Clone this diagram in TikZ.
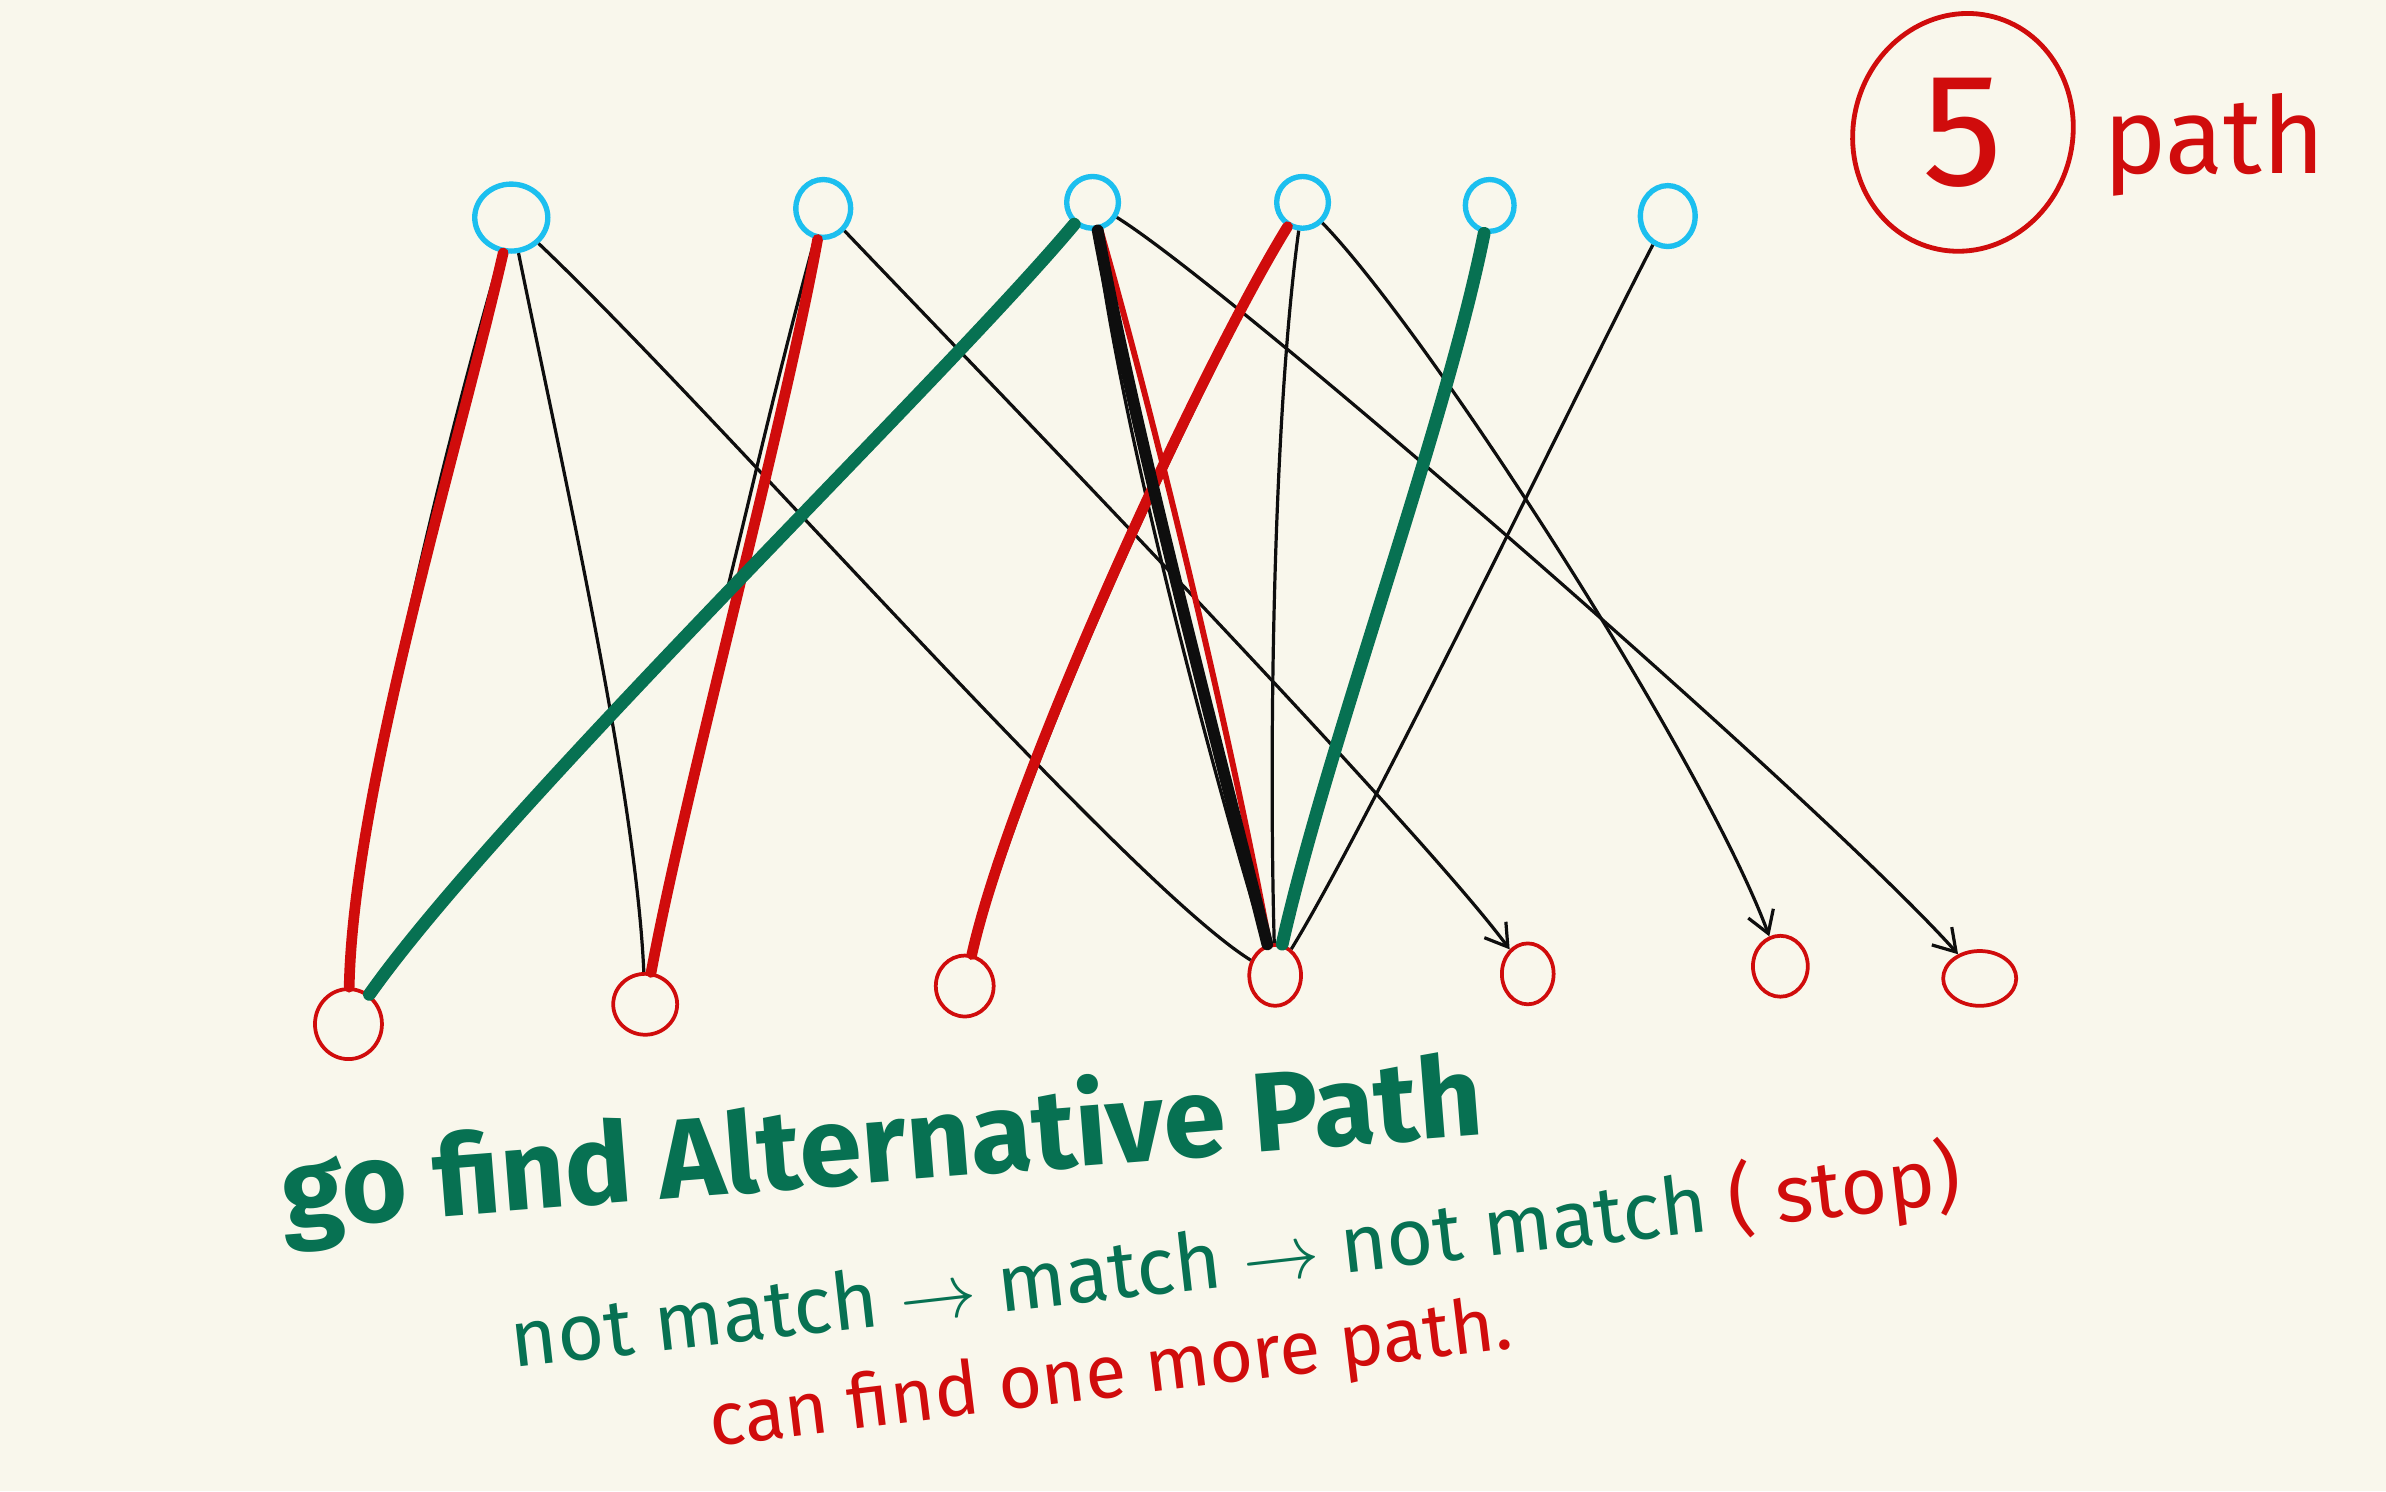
\documentclass[tikz,border=0pt]{standalone}
\usepackage{fontspec}
\setmainfont{Fira Sans}
\usepackage{xcolor}
\usepackage{tikz}
\usetikzlibrary{arrows.meta,calc,shapes.geometric}
\definecolor{paper}{HTML}{F9F7EC}
\definecolor{sky}{HTML}{1CBFEF}
\definecolor{ink}{HTML}{0E0E0E}
\definecolor{crimson}{HTML}{D00C0C}
\definecolor{pine}{HTML}{077152}
\tikzset{
  topv/.style={ellipse, draw=sky, line width=1pt, inner sep=0pt,
    minimum width=0.36cm, minimum height=0.38cm},
  botv/.style={ellipse, draw=crimson, line width=0.7pt, inner sep=0pt,
    minimum width=0.38cm, minimum height=0.40cm},
  edgeK/.style={draw=ink, line width=0.6pt},
  edgeKA/.style={edgeK, -{Straight Barb[length=4pt,width=5pt]}},
  edgeR/.style={draw=crimson, line width=2pt, line cap=round},
  edgeRm/.style={draw=crimson, line width=1.1pt, line cap=round},
  edgeG/.style={draw=pine, line width=2.4pt, line cap=round},
  edgeB/.style={draw=ink, line width=2.2pt, line cap=round},
  badge/.style={ellipse, draw=crimson, line width=0.9pt, inner sep=0pt},
  headline/.style={text=pine, inner sep=0pt, font=\bfseries\fontsize{21}{25}\selectfont},
  noteG/.style={text=pine, inner sep=0pt, font=\fontsize{15}{18}\selectfont},
  noteR/.style={text=crimson, inner sep=0pt, font=\fontsize{14}{17}\selectfont}
}
\begin{document}
\begin{tikzpicture}[x=0.01cm, y=-0.01cm]
  \fill[paper] (0,0) rectangle (1568,980);
  \useasboundingbox (0,0) rectangle (1568,980);

  % upper vertices
  \node[topv, minimum width=0.48cm, minimum height=0.44cm] (t1) at (336,143) {};
  \node[topv] (t2) at (541,137) {};
  \node[topv, minimum width=0.34cm, minimum height=0.34cm] (t3) at (718,133) {};
  \node[topv, minimum width=0.34cm, minimum height=0.34cm] (t4) at (856,133) {};
  \node[topv, minimum width=0.32cm, minimum height=0.34cm] (t5) at (979,135) {};
  \node[topv, minimum height=0.40cm] (t6) at (1096,142) {};

  % lower vertices
  \node[botv, minimum width=0.44cm, minimum height=0.46cm] (b1) at (229,673) {};
  \node[botv, minimum width=0.42cm] (b2) at (424,660) {};
  \node[botv] (b3) at (634,648) {};
  \node[botv, minimum width=0.34cm] (b4) at (838,641) {};
  \node[botv, minimum width=0.34cm] (b5) at (1004,640) {};
  \node[botv, minimum width=0.36cm] (b6) at (1170,635) {};
  \node[botv, minimum width=0.48cm, minimum height=0.36cm] (b7) at (1301,643) {};

  % all edges
  \draw[edgeK] (t1) .. controls (302,260) and (238,500) .. (b1);
  \draw[edgeK] (t1) .. controls (368,300) and (418,520) .. (b2);
  \draw[edgeK] (t1) .. controls (470,270) and (740,580) .. (b4);
  \draw[edgeK] (t2) .. controls (510,250) and (490,340) .. (476,395)
    .. controls (420,450) and (300,570) .. (b1);
  \draw[edgeKA] (t2) .. controls (620,220) and (930,540) .. (b5);
  \draw[edgeK] (t3) .. controls (736,280) and (800,520) .. (b4);
  \draw[edgeKA] (t3) .. controls (810,190) and (1200,530) .. (b7);
  \draw[edgeK] (t4) .. controls (790,250) and (680,480) .. (b3);
  \draw[edgeK] (t4) .. controls (836,280) and (834,500) .. (b4);
  \draw[edgeKA] (t4) .. controls (940,220) and (1120,500) .. (b6);
  \draw[edgeK] (t5) .. controls (950,260) and (870,520) .. (b4);
  \draw[edgeK] (t6) .. controls (1040,250) and (900,540) .. (b4);

  % matched edges
  \draw[edgeR] (t1) .. controls (300,300) and (232,520) .. (b1);
  \draw[edgeR] (t2) .. controls (515,280) and (450,520) .. (b2);
  \draw[edgeR] (t4) .. controls (790,240) and (665,510) .. (b3);
  \draw[edgeRm] (t3) .. controls (760,280) and (808,480) .. (b4);
  \draw[edgeB] (t3) .. controls (745,280) and (795,470) .. (b4);

  % alternative path
  \draw[edgeG] (b1) .. controls (330,530) and (620,250) .. (t3);
  \draw[edgeG] (t5) .. controls (950,280) and (872,490) .. (b4);

  % notes
  \node[badge, minimum width=1.44cm, minimum height=1.57cm, rotate=-15] (five) at (1290,87) {};
  \node[text=crimson, font=\fontsize{30}{30}\selectfont] (digit) at (five) {5};
  \node[noteR, font=\fontsize{20}{24}\selectfont] (pathlbl) at (1455,95) {path};
  \node[headline, rotate=4.5] (head) at (580,755) {go find Alternative Path};
  \node[noteG, rotate=6.5] (steps) at (812,828)
    {not match $\rightarrow$ match $\rightarrow$ not match \textcolor{crimson}{( stop)}};
  \node[noteR, rotate=7] (more) at (730,905) {can find one more path.};
\end{tikzpicture}
\end{document}
